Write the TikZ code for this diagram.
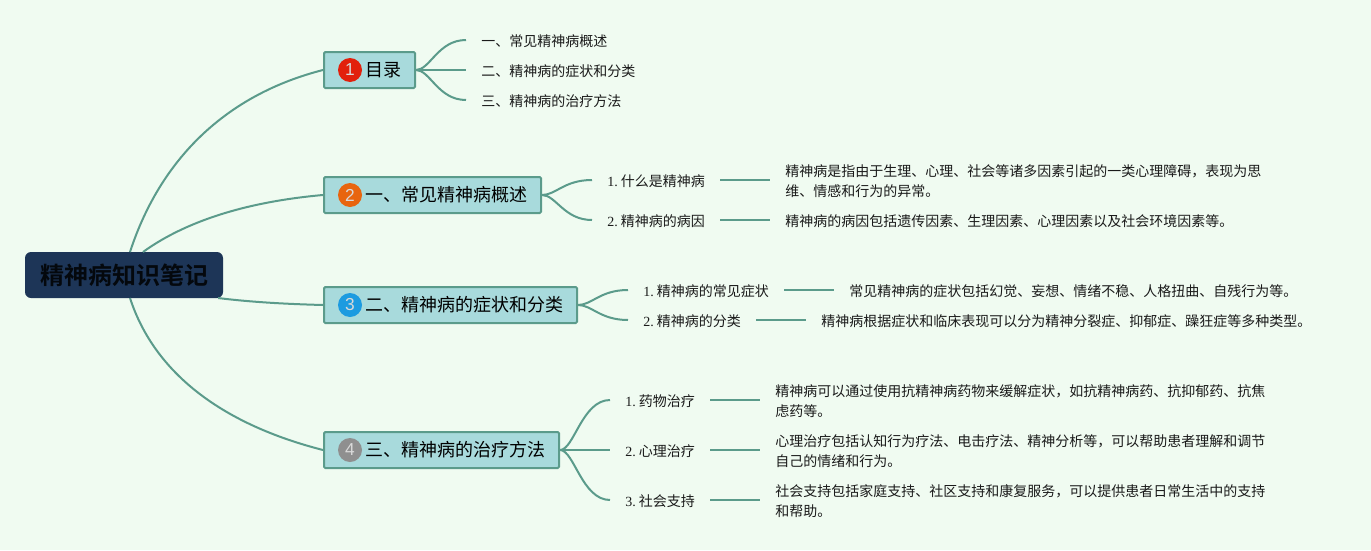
\documentclass[tikz,border=0pt]{standalone}
\usepackage{fontspec}
\setmainfont{Noto Sans CJK SC}[BoldFont={Noto Sans CJK SC Bold}]
\newfontfamily\ser{Liberation Serif}
\newfontfamily\lat{Liberation Sans}
\usetikzlibrary{calc}
\definecolor{bgc}{HTML}{F0FBF1}
\definecolor{boxc}{HTML}{A8DADC}
\definecolor{linec}{HTML}{5B9B8B}
\definecolor{navy}{HTML}{1D3557}
\definecolor{inkc}{HTML}{1A1A1A}
\newcommand\tpad[1]{\hspace*{30.75pt}#1\hspace*{10.5pt}}
\newcommand\num[1]{{\ser #1.}~}
\tikzset{
  x=0.75pt,y=-0.75pt,
  conn/.style={draw=linec,line width=1.5pt},
  rootbox/.style={fill=navy,rounded corners=4.5pt,minimum width=148.5pt,minimum height=34.5pt,inner sep=0pt,
    font=\fontsize{18}{22}\selectfont\bfseries,text=black!85!navy},
  topic/.style={draw=linec,fill=boxc,line width=1.5pt,rounded corners=1pt,anchor=west,minimum height=27pt,inner xsep=0pt,inner ysep=0pt,
    font=\fontsize{13.5}{16}\selectfont,text=black},
  icon/.style={circle,minimum size=18pt,inner sep=0pt,text=white!85!black,font=\lat\fontsize{13}{15}\selectfont},
  leaf/.style={anchor=west,inner xsep=11.25pt,inner ysep=0pt,font=\fontsize{10.5}{15.5}\selectfont,text=inkc,align=left},
}
\begin{document}
\begin{tikzpicture}
\useasboundingbox (0,0) rectangle (1371,550);
\fill[bgc] (0,0) rectangle (1371,550);

% root and topics
\node[rootbox] (root) at (124,275) {精神病知识笔记};
\node[topic] (t1) at (323,70) {\tpad{目录}};
\node[topic] (t2) at (323,195) {\tpad{一、常见精神病概述}};
\node[topic] (t3) at (323,305) {\tpad{二、精神病的症状和分类}};
\node[topic] (t4) at (323,450) {\tpad{三、精神病的治疗方法}};
\foreach \t/\n/\c in {t1/1/E2200C,t2/2/E8650F,t3/3/1C9BE0,t4/4/8F8F8F}{
  \definecolor{ic}{HTML}{\c}
  \node[icon,fill=ic] (i\n) at ($(\t.west)+(27,0)$) {\n};
}

% root connectors
\coordinate (r1) at (130,252);
\coordinate (r2) at (143,252);
\coordinate (r3) at (218,298);
\coordinate (r4) at (130,298);
\draw[conn] (r1) .. controls (160,160) and (225,95) .. (t1.west);
\draw[conn] (r2) .. controls (190,218) and (255,201) .. (t2.west);
\draw[conn] (r3) .. controls (250,302) and (285,304) .. (t3.west);
\draw[conn] (r4) .. controls (155,375) and (225,425) .. (t4.west);

% leaves: each text sits 1px below its connector
\node[leaf] (a1) at (466,41) {一、常见精神病概述};
\node[leaf] (a2) at (466,71) {二、精神病的症状和分类};
\node[leaf] (a3) at (466,101) {三、精神病的治疗方法};

\node[leaf] (b1) at (592,181) {\num{1}什么是精神病};
\node[leaf] (b2) at (592,221) {\num{2}精神病的病因};
\node[leaf] (bd1) at (770,181) {精神病是指由于生理、心理、社会等诸多因素引起的一类心理障碍，表现为思\\维、情感和行为的异常。};
\node[leaf] (bd2) at (770,221) {精神病的病因包括遗传因素、生理因素、心理因素以及社会环境因素等。};

\node[leaf] (c1) at (628,291) {\num{1}精神病的常见症状};
\node[leaf] (c2) at (628,321) {\num{2}精神病的分类};
\node[leaf] (cd1) at (834,291) {常见精神病的症状包括幻觉、妄想、情绪不稳、人格扭曲、自残行为等。};
\node[leaf] (cd2) at (806,321) {精神病根据症状和临床表现可以分为精神分裂症、抑郁症、躁狂症等多种类型。};

\node[leaf] (e1) at (610,401) {\num{1}药物治疗};
\node[leaf] (e2) at (610,451) {\num{2}心理治疗};
\node[leaf] (e3) at (610,501) {\num{3}社会支持};
\node[leaf] (ed1) at (760,401) {精神病可以通过使用抗精神病药物来缓解症状，如抗精神病药、抗抑郁药、抗焦\\虑药等。};
\node[leaf] (ed2) at (760,451) {心理治疗包括认知行为疗法、电击疗法、精神分析等，可以帮助患者理解和调节\\自己的情绪和行为。};
\node[leaf] (ed3) at (760,501) {社会支持包括家庭支持、社区支持和康复服务，可以提供患者日常生活中的支持\\和帮助。};

% branches from topics to leaves
\foreach \s/\l in {t1/a1,t1/a2,t1/a3,t2/b1,t2/b2,t3/c1,t3/c2,t4/e1,t4/e2,t4/e3}{
  \draw[conn] (\s.east) .. controls +(14,0) and +(-28,0) .. ([yshift=.75pt]\l.west);
}
% straight links from leaves to details
\foreach \l/\d in {b1/bd1,b2/bd2,c1/cd1,c2/cd2,e1/ed1,e2/ed2,e3/ed3}{
  \draw[conn] ([yshift=.75pt]\l.east) -- ([yshift=.75pt]\d.west);
}
\end{tikzpicture}
\end{document}
